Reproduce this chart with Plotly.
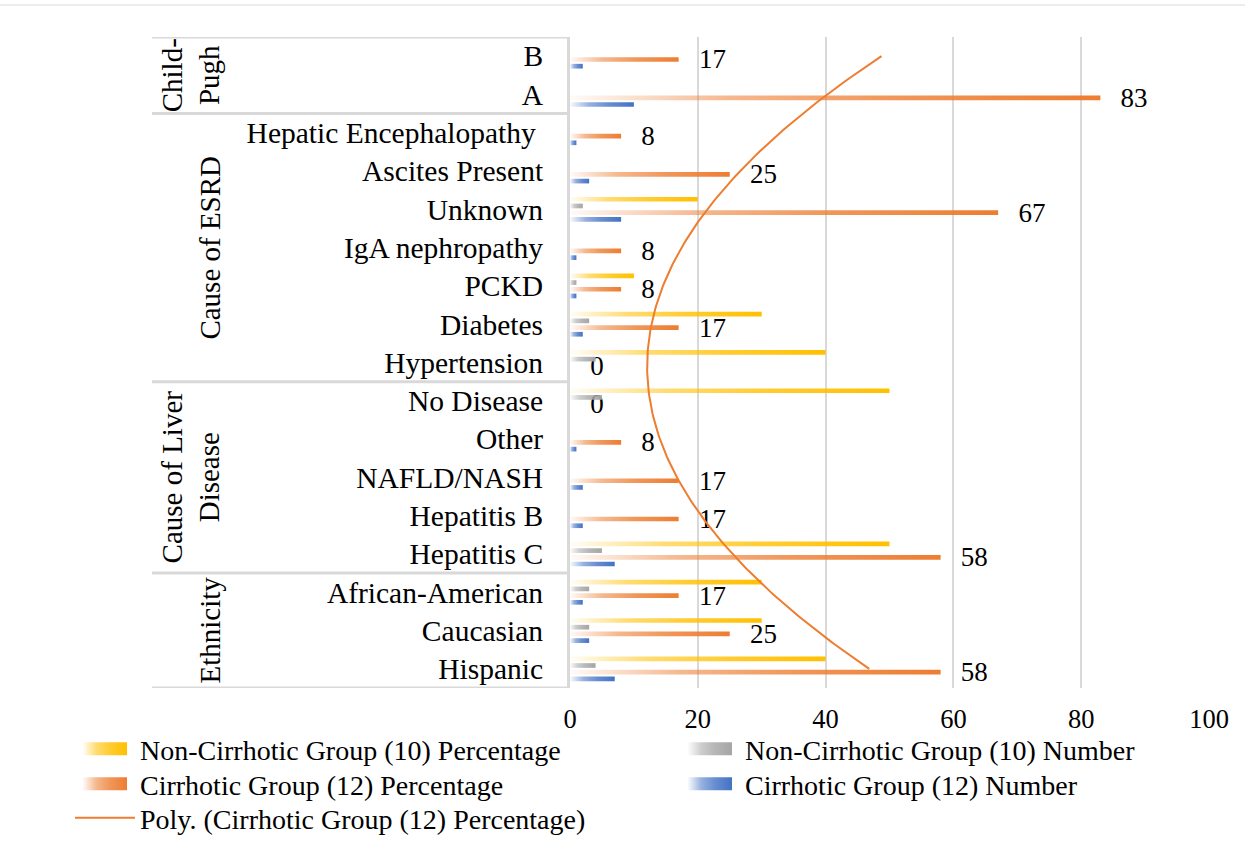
import numpy as np
import plotly.graph_objects as go

# ---------------- data ----------------
categories = ["Hispanic", "Caucasian", "African-American",
              "Hepatitis C", "Hepatitis B", "NAFLD/NASH", "Other", "No Disease",
              "Hypertension", "Diabetes", "PCKD", "IgA nephropathy", "Unknown",
              "Ascites Present", "Hepatic Encephalopathy ",
              "A", "B"]
group_names = ["Ethnicity", "Cause of Liver<br>Disease", "Cause of ESRD", "Child-<br>Pugh"]
group_sizes = [3, 5, 7, 2]

noncirr_pct = [40, 30, 30, 50, 0, 0, 0, 50, 40, 30, 10, 0, 20, 0, 0, 0, 0]
noncirr_num = [4, 3, 3, 5, 0, 0, 0, 5, 4, 3, 1, 0, 2, 0, 0, 0, 0]
cirr_pct = [58, 25, 17, 58, 17, 17, 8, 0, 0, 17, 8, 8, 67, 25, 8, 83, 17]
cirr_num = [7, 3, 2, 7, 2, 2, 1, 0, 0, 2, 1, 1, 8, 3, 1, 10, 2]

x_ticks = [0, 20, 40, 60, 80, 100]

# ---------------- styling ----------------
FONT = "Liberation Serif"
YELLOW, GRAY, ORANGE, BLUE = "#ffc000", "#a5a5a5", "#ed7d31", "#4472c4"
GRID = "#d9d9d9"

W, H = 1255, 848
ML, MR, MT, MB = 570, 46, 37, 160
PW = W - ML - MR
PH = H - MT - MB


def px2paper_x(px):
    return (px - ML) / PW


def px2paper_y(py):
    return (H - MB - py) / PH


pos = list(range(len(categories)))

fig = go.Figure()
# trace order bottom->top within each group: blue, orange, gray, yellow
fig.add_trace(go.Bar(y=pos, x=cirr_num, orientation="h", name="Cirrhotic Group (12) Number",
                     marker=dict(color=BLUE, line=dict(width=0)), legend="legend4"))
fig.add_trace(go.Bar(y=pos, x=cirr_pct, orientation="h", name="Cirrhotic Group (12) Percentage",
                     marker=dict(color=ORANGE, line=dict(width=0)), legend="legend3",
                     text=cirr_pct, texttemplate="\u00a0\u00a0\u00a0%{x}", textposition="outside",
                     constraintext="none", cliponaxis=False,
                     outsidetextfont=dict(family=FONT, size=27, color="black")))
fig.add_trace(go.Bar(y=pos, x=noncirr_num, orientation="h", name="Non-Cirrhotic Group (10) Number",
                     marker=dict(color=GRAY, line=dict(width=0)), legend="legend2"))
fig.add_trace(go.Bar(y=pos, x=noncirr_pct, orientation="h", name="Non-Cirrhotic Group (10) Percentage",
                     marker=dict(color=YELLOW, line=dict(width=0)), legend="legend"))

# polynomial (order 2) trendline of the cirrhotic percentage, as Excel computes it
coef = np.polyfit(np.array(pos, dtype=float), np.array(cirr_pct, dtype=float), 2)
ys = np.linspace(pos[0], pos[-1], 200)
fig.add_trace(go.Scatter(y=ys, x=np.polyval(coef, ys), mode="lines",
                         name="Poly. (Cirrhotic Group (12) Percentage)",
                         line=dict(color=ORANGE, width=2), legend="legend5",
                         hoverinfo="skip"))
for tr in fig.data:
    tr.showlegend = True

# group dividers and labels
shapes = []
annotations = []
x_left = px2paper_x(152)
bounds = [-0.5]
for s in group_sizes:
    bounds.append(bounds[-1] + s)
for b in bounds:
    shapes.append(dict(type="line", xref="paper", yref="y", x0=x_left, x1=0, y0=b, y1=b,
                       line=dict(color=GRID, width=3), layer="above"))
for name, lo, hi in zip(group_names, bounds[:-1], bounds[1:]):
    annotations.append(dict(text=name, xref="paper", yref="y", x=px2paper_x(228), y=(lo + hi) / 2,
                            xanchor="right", yanchor="middle", textangle=-90, showarrow=False,
                            font=dict(family=FONT, size=29, color="black")))
# outer chart border (top edge)
shapes.append(dict(type="line", xref="paper", yref="paper", x0=px2paper_x(0), x1=px2paper_x(1245),
                   y0=px2paper_y(5), y1=px2paper_y(5), line=dict(color=GRID, width=1)))

legend_common = dict(orientation="v", xanchor="left", yanchor="middle", visible=True,
                     font=dict(family=FONT, size=28, color="black"), itemwidth=60,
                     bgcolor="rgba(0,0,0,0)", borderwidth=0)
col1, col2 = px2paper_x(70), px2paper_x(675)
row1, row2, row3 = px2paper_y(749), px2paper_y(784), px2paper_y(818)

fig.update_layout(
    width=W, height=H, autosize=False, showlegend=True,
    margin=dict(l=ML, r=MR, t=MT, b=MB, autoexpand=False),
    paper_bgcolor="white", plot_bgcolor="white",
    barmode="group", bargap=0.3, bargroupgap=0.3,
    font=dict(family=FONT, size=26, color="black"),
    xaxis=dict(range=[0, 100], tickvals=x_ticks, showgrid=True, gridcolor=GRID, gridwidth=2,
               zeroline=False, showline=False, ticks="", ticklabelstandoff=12,
               tickfont=dict(family=FONT, size=26.5, color="black")),
    yaxis=dict(range=[-0.5, len(categories) - 0.5], tickvals=pos, ticktext=categories,
               showgrid=False, zeroline=False, showline=True, linecolor=GRID, linewidth=3,
               ticks="", ticklabelstandoff=18,
               tickfont=dict(family=FONT, size=29.5, color="black")),
    legend=dict(x=col1, y=row1, **legend_common),
    legend2=dict(x=col2, y=row1, **legend_common),
    legend3=dict(x=col1, y=row2, **legend_common),
    legend4=dict(x=col2, y=row2, **legend_common),
    legend5=dict(x=col1, y=row3, **legend_common),
    shapes=shapes, annotations=annotations,
)

post = r"""
document.body.style.margin = '0';
document.body.style.padding = '0';
var gd = document.getElementById('{plot_id}');
var NS = 'http://www.w3.org/2000/svg';
var svg = gd.querySelector('svg.main-svg');
var defs = svg.querySelector('defs');
if (!defs) { defs = document.createElementNS(NS, 'defs'); svg.insertBefore(defs, svg.firstChild); }
function grad(id, color) {
  if (document.getElementById(id)) return;
  var g = document.createElementNS(NS, 'linearGradient');
  g.setAttribute('id', id);
  g.setAttribute('x1', '0'); g.setAttribute('y1', '0'); g.setAttribute('x2', '1'); g.setAttribute('y2', '0');
  [[0, 0.03], [0.3, 0.55], [0.6, 0.8], [1, 1]].forEach(function (s) {
    var st = document.createElementNS(NS, 'stop');
    st.setAttribute('offset', s[0]);
    st.setAttribute('stop-color', color);
    st.setAttribute('stop-opacity', s[1]);
    g.appendChild(st);
  });
  defs.appendChild(g);
}
function getTrace(d) {
  var o = d;
  for (var k = 0; k < 3 && o; k++) {
    if (o.trace) return o.trace;
    o = Array.isArray(o) ? o[0] : null;
  }
  return null;
}
gd.querySelectorAll('.barlayer .trace.bars').forEach(function (t) {
  var tr = getTrace(t.__data__);
  if (!tr) return;
  var id = 'bargrad' + tr.index;
  grad(id, tr.marker.color);
  t.querySelectorAll('.point path').forEach(function (p) { p.style.fill = 'url(#' + id + ')'; });
});
gd.querySelectorAll('.infolayer g.traces').forEach(function (it) {
  var tr = getTrace(it.__data__);
  if (!tr) return;
  if (tr.type === 'bar') {
    var id = 'bargrad' + tr.index;
    grad(id, tr.marker.color);
    it.querySelectorAll('.legendpoints path').forEach(function (p) {
      p.setAttribute('d', 'M22,6.5H-22V-6.5H22Z');
      p.style.fill = 'url(#' + id + ')';
    });
  } else {
    it.querySelectorAll('.legendpoints path').forEach(function (p) {
      p.setAttribute('d', 'M-22,0h44');
    });
  }
});
"""

fig.write_html("out.html", post_script=post, config={"displayModeBar": False})
